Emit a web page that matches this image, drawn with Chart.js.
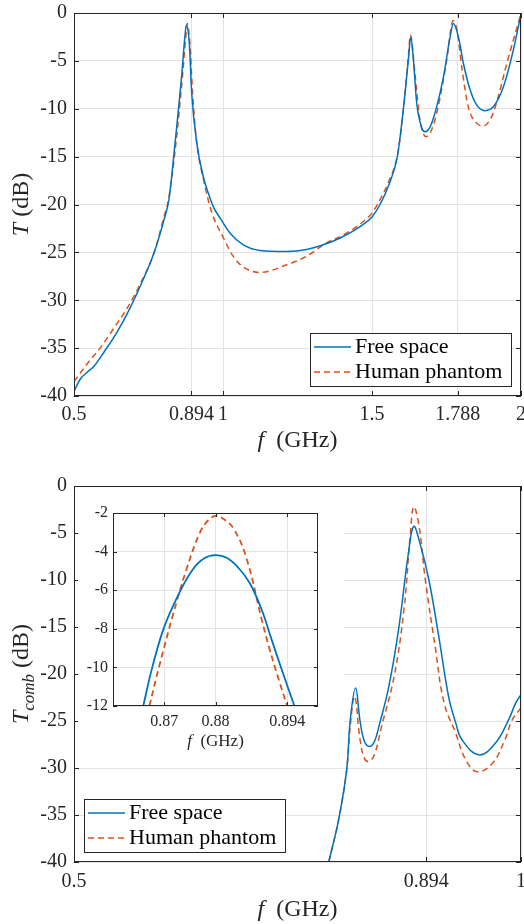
<!DOCTYPE html>
<html>
<head>
<meta charset="utf-8">
<script src="https://cdn.jsdelivr.net/npm/chart.js@4.4.0/dist/chart.umd.min.js"></script>
<style>
html,body{margin:0;padding:0;background:#fff;}
#wrap{position:relative;width:524px;height:924px;overflow:hidden;}
canvas{position:absolute;}
#top{left:0;top:0;}
#bot{left:0;top:462px;}
#ins{left:78px;top:498px;background:#fff;}
</style>
</head>
<body>
<div id="wrap">
  <canvas id="top" width="524" height="462"></canvas>
  <canvas id="bot" width="524" height="462"></canvas>
  <canvas id="ins" width="266" height="258"></canvas>
</div>
<script>
/* ===== Data ===== */
const tickTopX = [0.5, 0.894, 1, 1.5, 1.788, 2];
const tickBotX = [0.5, 0.894, 1];
const tickMainY = [0, -5, -10, -15, -20, -25, -30, -35, -40];
const tickInsX = [0.87, 0.88, 0.894];
const tickInsY = [-2, -4, -6, -8, -10, -12];

// top panel: T (dB), 0.5 - 2 GHz
const fTopFree = [0.5, 0.522, 0.545, 0.567, 0.601, 0.645, 0.685, 0.724, 0.768, 0.802, 0.819, 0.839, 0.861, 0.872, 0.877,
  0.887, 0.895, 0.912, 0.934, 0.956, 0.970, 0.990, 1.024, 1.067, 1.124, 1.214, 1.281, 1.336, 1.393, 1.460, 1.500, 1.527,
  1.556, 1.585, 1.605, 1.622, 1.630, 1.639, 1.650, 1.667, 1.678, 1.695, 1.717, 1.740, 1.762, 1.773, 1.790, 1.807, 1.829,
  1.851, 1.879, 1.907, 1.941, 1.974, 2.0];
const tTopFree = [-39.5, -38.2, -37.5, -36.9, -35.4, -33.3, -31.0, -28.4, -25.1, -21.6, -19.4, -13.6, -6.65, -2.5, -1.25,
  -3.2, -8.4, -13.6, -17.1, -19.3, -20.4, -21.4, -23.0, -24.2, -24.8, -24.9, -24.7, -24.2, -23.5, -22.3, -21.3, -20.0,
  -18.0, -15.0, -10.1, -4.9, -2.5, -4.9, -9.4, -12.0, -12.4, -11.9, -9.8, -6.65, -2.5, -1.1, -2.5, -5.3, -8.0,
  -9.6, -10.2, -9.8, -7.7, -3.9, -0.1];

const fTopPhantom = [0.5, 0.545, 0.590, 0.634, 0.679, 0.724, 0.768, 0.802, 0.817, 0.842, 0.864, 0.875, 0.880,
  0.889, 0.898, 0.912, 0.934, 0.962, 1.0, 1.034, 1.067, 1.124, 1.214, 1.281, 1.348, 1.403, 1.470, 1.500, 1.527,
  1.556, 1.587, 1.607, 1.622, 1.629, 1.644, 1.661, 1.681, 1.700, 1.722, 1.751, 1.772, 1.786, 1.801, 1.823, 1.851,
  1.874, 1.902, 1.924, 1.952, 1.997];
const tTopPhantom = [-38.5, -36.6, -34.9, -32.9, -30.8, -28.2, -25.1, -21.3, -19.5, -13.6, -6.6, -2.5, -1.1,
  -3.2, -8.4, -13.6, -17.3, -20.8, -23.4, -25.4, -26.5, -27.1, -26.3, -25.4, -24.0, -23.2, -21.8, -20.9, -19.5,
  -17.6, -14.6, -9.6, -4.5, -2.3, -6.3, -11.2, -12.9, -12.2, -9.8, -4.9, -0.8, -1.9, -5.6, -9.8, -11.5,
  -11.8, -10.8, -8.7, -5.3, -0.4];

// bottom panel: T_comb (dB), 0.5 - 1 GHz
const fCombFree = [0.785, 0.796, 0.805, 0.809, 0.815, 0.820, 0.825, 0.831, 0.836, 0.841, 0.852, 0.863, 0.874, 0.880,
  0.887, 0.897, 0.908, 0.919, 0.927, 0.934, 0.953, 0.971, 0.986, 0.994, 1.0];
const tCombFree = [-40, -35.5, -30.2, -24.9, -21.5, -25.0, -27.2, -27.7, -27.2, -25.6, -21.4, -15.3, -7.2, -4.3,
  -6.1, -10.0, -16.0, -22.4, -25.2, -27.0, -28.6, -27.4, -24.9, -23.1, -22.2];

const fCombPhantom = [0.785, 0.796, 0.805, 0.809, 0.814, 0.820, 0.825, 0.830, 0.836, 0.844, 0.858, 0.869, 0.876, 0.880,
  0.886, 0.893, 0.904, 0.914, 0.927, 0.938, 0.951, 0.968, 0.982, 0.990, 1.0];
const tCombPhantom = [-40, -35.5, -30.2, -25.5, -22.4, -27.0, -29.0, -29.3, -28.6, -25.6, -20.3, -13.2, -5.4, -2.2,
  -4.3, -10.0, -17.1, -23.1, -26.3, -29.1, -30.4, -29.5, -27.0, -24.9, -23.6];

// inset: zoom around 0.88 GHz
const fZoomFree = [0.8659, 0.8677, 0.870, 0.8729, 0.8755, 0.8778, 0.880, 0.8822, 0.8845, 0.8867, 0.889, 0.891, 0.8929, 0.8954];
const tZoomFree = [-12, -9.96, -7.9, -6.16, -4.95, -4.35, -4.18, -4.32, -4.85, -5.64, -7.0, -8.6, -10.1, -12];
const fZoomPhantom = [0.8671, 0.869, 0.8716, 0.8743, 0.8769, 0.8785, 0.880, 0.8815, 0.8835, 0.886, 0.889, 0.8905, 0.8923, 0.8940];
const tZoomPhantom = [-12, -9.96, -7.37, -4.95, -3.05, -2.4, -2.15, -2.3, -2.8, -4.3, -7.5, -9.0, -10.6, -12];

/* ===== Styling ===== */
const SERIF = '"Liberation Serif", "Times New Roman", serif';
const INK = '#262626';
const BLUE = '#0072BD', ORANGE = '#D95319';

const pts = (xs, ys) => xs.map((x, i) => ({x, y: ys[i]}));
const line = (label, xs, ys, color, dash, w, smooth) => ({
  label, data: pts(xs, ys), showLine: true, pointRadius: 0, borderColor: color, backgroundColor: color,
  borderWidth: w, borderDash: dash, fill: false,
  cubicInterpolationMode: smooth ? 'default' : 'monotone', tension: smooth ? 0.4 : 0
});

/* ===== Plugins: box frame w/ inward ticks, boxed legend, latex-ish axis titles ===== */
const frame = {
  id: 'frame',
  afterDraw(c, args, o){
    const {ctx, chartArea: a, scales: {x, y}} = c;
    const L = o.len || 5;
    ctx.save();
    ctx.strokeStyle = INK; ctx.lineWidth = 1;
    ctx.strokeRect(a.left + .5, a.top + .5, a.right - a.left - 1, a.bottom - a.top - 1);
    ctx.beginPath();
    x.ticks.forEach(t => { const p = Math.round(x.getPixelForValue(t.value)) + .5;
      ctx.moveTo(p, a.bottom); ctx.lineTo(p, a.bottom - L); ctx.moveTo(p, a.top); ctx.lineTo(p, a.top + L); });
    y.ticks.forEach(t => { const p = Math.round(y.getPixelForValue(t.value)) + .5;
      ctx.moveTo(a.left, p); ctx.lineTo(a.left + L, p); ctx.moveTo(a.right, p); ctx.lineTo(a.right - L, p); });
    ctx.stroke();
    ctx.restore();
  }
};

const boxLegend = {
  id: 'boxLegend',
  afterDraw(c, args, o){
    if(!o.box) return;
    const ctx = c.ctx; const [bx, by, bw, bh] = o.box;
    ctx.save();
    ctx.fillStyle = '#fff'; ctx.fillRect(bx, by, bw, bh);
    ctx.strokeStyle = INK; ctx.lineWidth = 1; ctx.strokeRect(bx + .5, by + .5, bw, bh);
    c.data.datasets.forEach((d, i) => {
      const yy = by + 14 + i * 25;
      ctx.strokeStyle = d.borderColor; ctx.lineWidth = d.borderWidth; ctx.setLineDash(d.borderDash || []);
      ctx.beginPath(); ctx.moveTo(bx + 4, yy); ctx.lineTo(bx + 41, yy); ctx.stroke();
      ctx.setLineDash([]);
      ctx.fillStyle = '#000'; ctx.font = '22px ' + SERIF; ctx.textBaseline = 'middle';
      ctx.fillText(d.label, bx + 45, yy);
    });
    ctx.restore();
  }
};

function drawParts(ctx, parts, cx, cy, size, rot){
  ctx.save(); ctx.translate(cx, cy); if(rot) ctx.rotate(-Math.PI / 2);
  const fontOf = p => (p.i ? 'italic ' : '') + (p.sub ? Math.round(size * 0.72) : size) + 'px ' + SERIF;
  let w = 0; parts.forEach(p => { ctx.font = fontOf(p); w += ctx.measureText(p.t).width; });
  let xx = -w / 2;
  ctx.textBaseline = 'middle'; ctx.fillStyle = INK;
  parts.forEach(p => { ctx.font = fontOf(p); ctx.fillText(p.t, xx, p.sub ? size * 0.32 : 0); xx += ctx.measureText(p.t).width; });
  ctx.restore();
}

const axisTitles = {
  id: 'axisTitles',
  afterDraw(c, args, o){
    const a = c.chartArea, ctx = c.ctx;
    if(o.x) drawParts(ctx, o.x, (a.left + a.right) / 2, o.xAt, o.size, false);
    if(o.y) drawParts(ctx, o.y, o.yAt, (a.top + a.bottom) / 2, o.size, true);
  }
};

function makeChart(id, sets, opt){
  return new Chart(document.getElementById(id), {
    type: 'scatter',
    data: {datasets: sets},
    options: {
      responsive: false, animation: false, events: [],
      layout: {padding: opt.pad},
      plugins: {
        legend: {display: false}, tooltip: {enabled: false},
        frame: {len: opt.tickLen},
        boxLegend: {box: opt.legend},
        axisTitles: opt.titles
      },
      scales: {
        x: {
          type: 'linear', min: opt.xr[0], max: opt.xr[1],
          afterBuildTicks: s => { s.ticks = opt.xt.map(v => ({value: v})); },
          afterFit: s => { s.height = opt.xh; s.paddingLeft = 0; s.paddingRight = 0; },
          grid: {color: '#e3e3e3', drawTicks: false}, border: {display: false},
          ticks: {padding: opt.xpad, color: INK, font: {family: SERIF, size: opt.fs}, maxRotation: 0, minRotation: 0,
            autoSkip: false, callback: v => String(v)}
        },
        y: {
          type: 'linear', min: opt.yr[0], max: opt.yr[1],
          afterBuildTicks: s => { s.ticks = opt.yt.map(v => ({value: v})); },
          afterFit: s => { s.width = opt.yw; s.paddingTop = 0; s.paddingBottom = 0; },
          grid: {color: '#e3e3e3', drawTicks: false}, border: {display: false},
          ticks: {padding: opt.ypad, color: INK, font: {family: SERIF, size: opt.fs}, autoSkip: false, callback: v => String(v)}
        }
      }
    },
    plugins: [frame, boxLegend, axisTitles]
  });
}

const xTitle = [{t: 'f', i: 1}, {t: '  (GHz)'}];

/* ===== Top panel ===== */
makeChart('top', [
  line('Free space', fTopFree, tTopFree, BLUE, [], 1.5, false),
  line('Human phantom', fTopPhantom, tTopPhantom, ORANGE, [6, 4], 1.5, false)
], {
  pad: {left: 0, top: 13, right: 3, bottom: 0}, xh: 66, yw: 74, xpad: 7, ypad: 7, fs: 20, tickLen: 5,
  xr: [0.5, 2], yr: [-40, 0], xt: tickTopX, yt: tickMainY,
  legend: [310, 333, 201, 53],
  titles: {x: xTitle, xAt: 441, y: [{t: 'T', i: 1}, {t: ' (dB)'}], yAt: 22, size: 24}
});

/* ===== Bottom panel ===== */
makeChart('bot', [
  line('Free space', fCombFree, tCombFree, BLUE, [], 1.5, true),
  line('Human phantom', fCombPhantom, tCombPhantom, ORANGE, [6, 4], 1.5, true)
], {
  pad: {left: 0, top: 24, right: 3, bottom: 0}, xh: 62, yw: 74, xpad: 8, ypad: 7, fs: 20, tickLen: 5,
  xr: [0.5, 1], yr: [-40, 0], xt: tickBotX, yt: tickMainY,
  legend: [84, 337, 201, 53],
  titles: {x: xTitle, xAt: 448, y: [{t: 'T', i: 1}, {t: 'comb', i: 1, sub: 1}, {t: ' (dB)'}], yAt: 22, size: 24}
});

/* ===== Inset ===== */
makeChart('ins', [
  line('Free space', fZoomFree, tZoomFree, BLUE, [], 1.8, true),
  line('Human phantom', fZoomPhantom, tZoomPhantom, ORANGE, [6, 4], 1.8, true)
], {
  pad: {left: 0, top: 15, right: 26, bottom: 0}, xh: 50, yw: 35, xpad: 6, ypad: 5, fs: 16, tickLen: 4,
  xr: [0.86, 0.9], yr: [-12, -2], xt: tickInsX, yt: tickInsY,
  legend: null,
  titles: {x: xTitle, xAt: 244, size: 17}
});
</script>
</body>
</html>
